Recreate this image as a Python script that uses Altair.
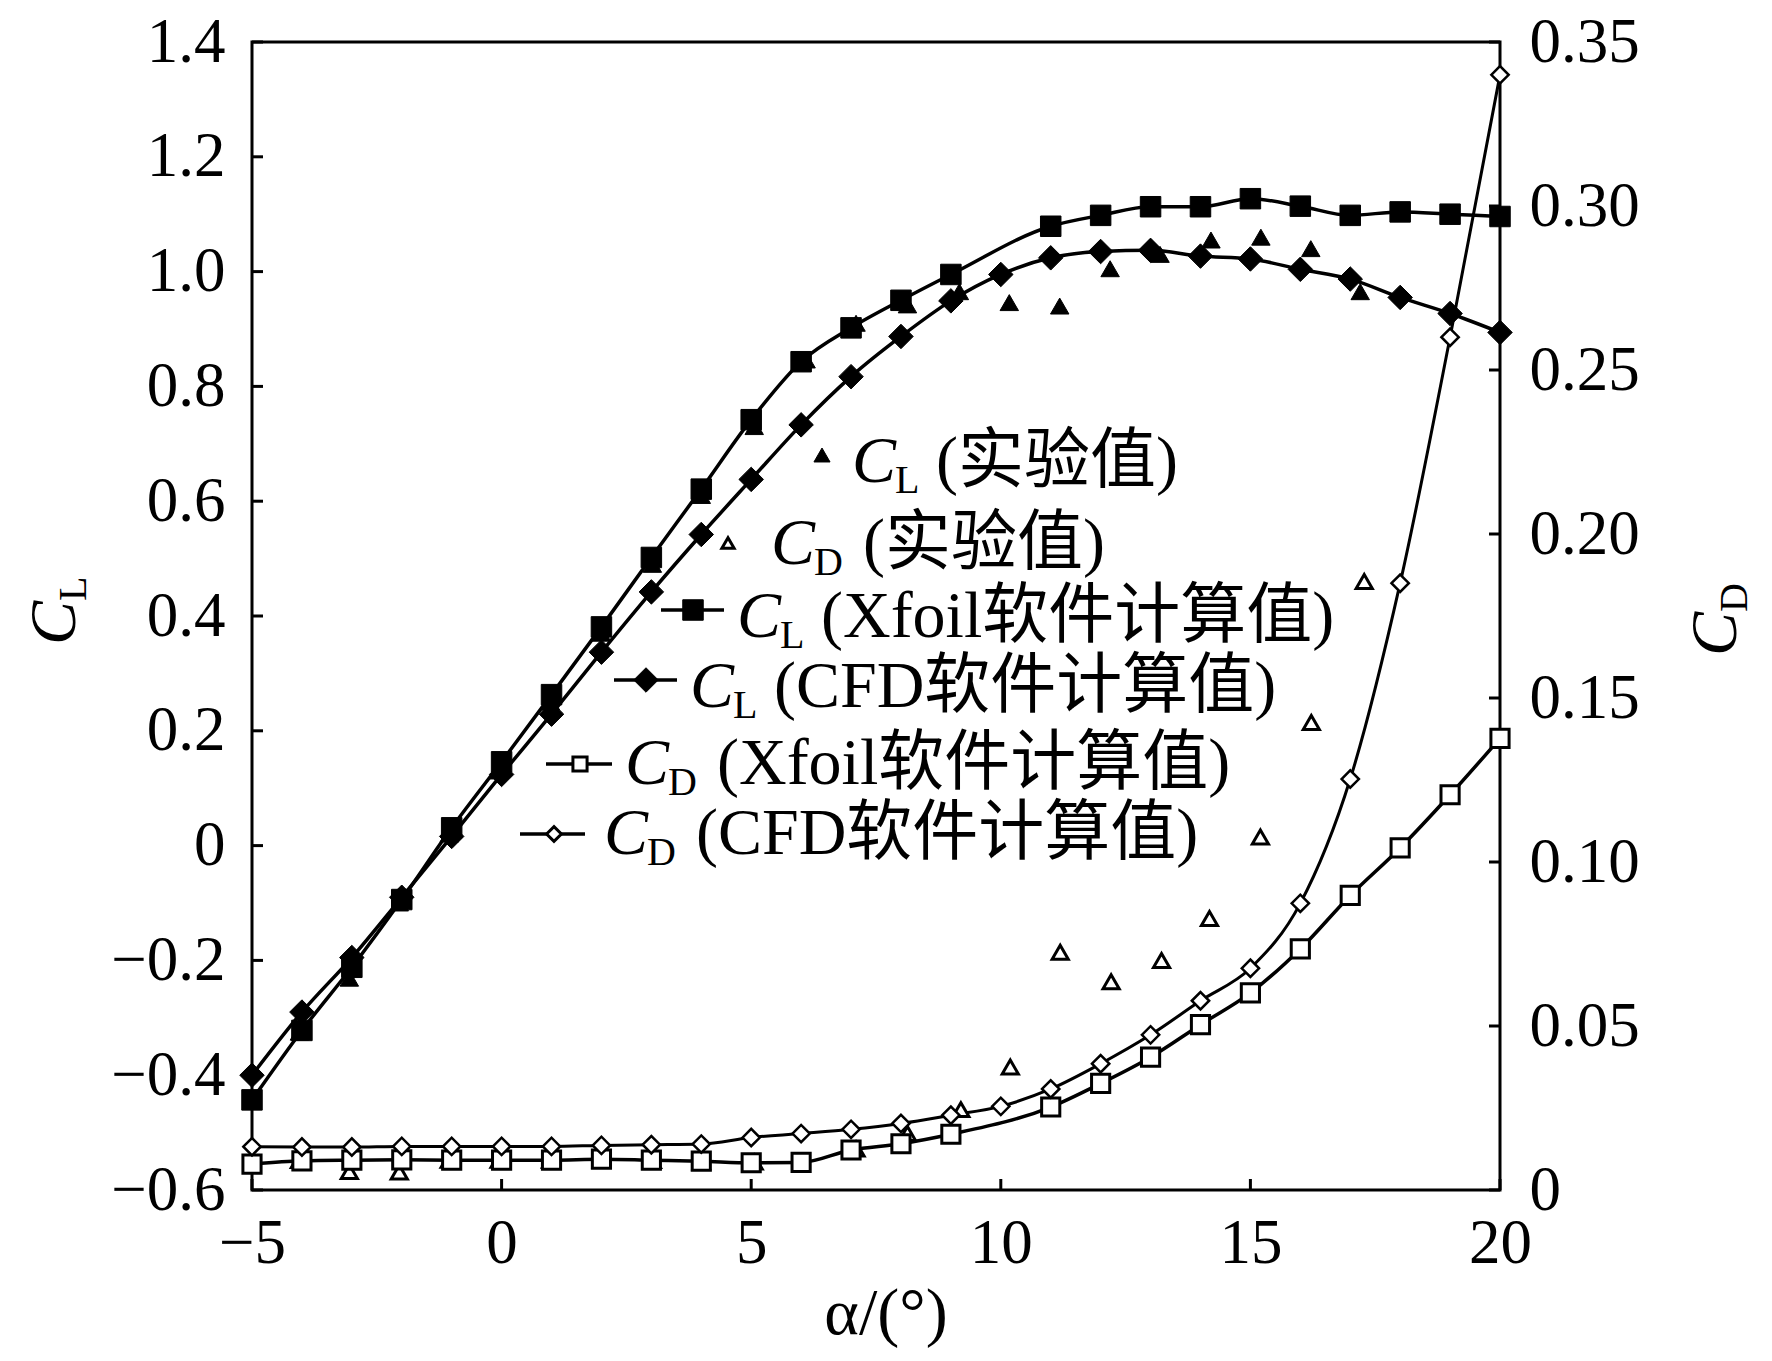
import altair as alt
import pandas as pd

# ---------------- data ----------------
alpha_cfd = list(range(-5, 21))
cl_cfd = [-0.40, -0.29, -0.195, -0.09, 0.016, 0.124, 0.229, 0.337, 0.442, 0.542,
          0.638, 0.733, 0.817, 0.887, 0.949, 0.995, 1.024, 1.035, 1.037, 1.027,
          1.022, 1.004, 0.987, 0.955, 0.927, 0.894]
cd_cfd = [0.0132, 0.0131, 0.0131, 0.0133, 0.0133, 0.0133, 0.0133, 0.0136, 0.0138, 0.0140,
          0.0160, 0.0172, 0.0185, 0.0203, 0.0228, 0.0255, 0.0308, 0.0385, 0.0473, 0.0577,
          0.0676, 0.0874, 0.1253, 0.185, 0.260, 0.340]

alpha_xfoil = [-5, -4, -3, -2, -1, 0, 1, 2, 3, 4, 5, 6, 7, 8, 9,
               11, 12, 13, 14, 15, 16, 17, 18, 19, 20]
cl_xfoil = [-0.443, -0.322, -0.212, -0.094, 0.031, 0.146, 0.263, 0.381, 0.502, 0.621,
            0.742, 0.843, 0.902, 0.950, 0.995, 1.079, 1.098, 1.113, 1.113, 1.127,
            1.114, 1.098, 1.104, 1.100, 1.096]
cd_xfoil = [0.0079, 0.0089, 0.0091, 0.0092, 0.0091, 0.0091, 0.0091, 0.0094, 0.0091, 0.0088,
            0.0083, 0.0084, 0.0122, 0.0141, 0.0170, 0.0253, 0.0325, 0.0405, 0.0504, 0.0601,
            0.0735, 0.0898, 0.1043, 0.1205, 0.1377]

alpha_exp_cl = [-4.05, -3.05, -2.05, -1.05, -0.05, 0.98, 2.0, 3.02, 4.0, 5.06, 6.1,
                7.1, 8.13, 9.17, 10.17, 11.18, 12.19, 13.19, 14.21, 15.21, 16.21, 17.2]
exp_cl = [-0.325, -0.231, -0.10, 0.02, 0.13, 0.25, 0.37, 0.49, 0.61, 0.73, 0.846,
          0.91, 0.942, 0.965, 0.946, 0.94, 1.005, 1.03, 1.055, 1.06, 1.04, 0.965]

alpha_exp_cd = [-4.05, -3.05, -2.05, -1.05, -0.05, 0.98, 2.0, 3.02, 4.0, 5.06,
                7.1, 8.13, 9.2, 10.19, 11.19, 12.21, 13.22, 14.18, 15.2, 16.22, 17.28]
exp_cd = [0.0090, 0.0056, 0.0055, 0.0091, 0.0091, 0.0091, 0.0092, 0.0090, 0.0086, 0.0085,
          0.0125, 0.0172, 0.0245, 0.0375, 0.0725, 0.0635, 0.0700, 0.0828, 0.1076, 0.1425,
          0.1855]

x_ticks = [-5, 0, 5, 10, 15, 20]
cl_ticks = [-0.6, -0.4, -0.2, 0, 0.2, 0.4, 0.6, 0.8, 1.0, 1.2, 1.4]
cd_ticks = [0, 0.05, 0.1, 0.15, 0.2, 0.25, 0.3, 0.35]

legend_labels = ["(实验值)", "(实验值)", "(Xfoil软件计算值)", "(CFD软件计算值)",
                 "(Xfoil软件计算值)", "(CFD软件计算值)"]
legend_subs = ["L", "D", "L", "L", "D", "D"]

# ---------------- layout / style ----------------
W, H = 1248, 1148
SERIF = "Liberation Serif, Noto Sans CJK SC"
LBL = 63
FS = 66
TICK = 11
LW = 3.5

df_xf = pd.DataFrame({"alpha": alpha_xfoil, "cl": cl_xfoil, "cd": cd_xfoil})
df_cfd = pd.DataFrame({"alpha": alpha_cfd, "cl": cl_cfd, "cd": cd_cfd})
df_ecl = pd.DataFrame({"alpha": alpha_exp_cl, "cl": exp_cl})
df_ecd = pd.DataFrame({"alpha": alpha_exp_cd, "cd": exp_cd})
ONE = pd.DataFrame({"k": [0]})

x_axis = alt.Axis(values=x_ticks, labelExpr="format(datum.value, 'd')", title=None,
                  domain=False, ticks=False, tickSize=0, grid=False,
                  labelFont=SERIF, labelFontSize=LBL, labelPadding=22,
                  labelColor="black", labelFlush=False, labelOverlap=False)
cl_axis = alt.Axis(orient="left", values=cl_ticks,
                   labelExpr="abs(datum.value) < 1e-9 ? '0' : format(datum.value, '.1f')",
                   title=None, domain=False, ticks=False, tickSize=0, grid=False,
                   labelFont=SERIF, labelFontSize=LBL, labelPadding=27,
                   labelColor="black", labelFlush=False, labelOverlap=False)
cd_axis = alt.Axis(orient="right", values=cd_ticks,
                   labelExpr="abs(datum.value) < 1e-9 ? '0' : format(datum.value, '.2f')",
                   title=None, domain=False, ticks=False, tickSize=0, grid=False,
                   labelFont=SERIF, labelFontSize=LBL, labelPadding=29,
                   labelColor="black", labelFlush=False, labelOverlap=False)

X = alt.X("alpha:Q", scale=alt.Scale(domain=[-5, 20], nice=False, zero=False), axis=x_axis)
YL = alt.Y("cl:Q", scale=alt.Scale(domain=[-0.6, 1.4], nice=False, zero=False), axis=cl_axis)
YR = alt.Y("cd:Q", scale=alt.Scale(domain=[0, 0.35], nice=False, zero=False), axis=cd_axis)

def line(df, y, w=LW):
    return alt.Chart(df).mark_line(color="black", strokeWidth=w,
                                   interpolate="monotone").encode(x=X, y=y)

def pts(df, y, shape, filled, size, sw=3):
    if filled:
        m = alt.Chart(df).mark_point(shape=shape, filled=True, fill="black",
                                     stroke="black", strokeWidth=1, size=size, opacity=1)
    else:
        m = alt.Chart(df).mark_point(shape=shape, filled=True, fill="white",
                                     stroke="black", strokeWidth=sw, size=size, opacity=1)
    return m.encode(x=X, y=y)

ticks_bottom = alt.Chart(pd.DataFrame({"alpha": x_ticks})).mark_rule(
    color="black", strokeWidth=3).encode(x=X, y=alt.value(H), y2=alt.value(H - TICK))
ticks_left = alt.Chart(pd.DataFrame({"cl": cl_ticks})).mark_rule(
    color="black", strokeWidth=3).encode(y=YL, x=alt.value(0), x2=alt.value(TICK))
ticks_right = alt.Chart(pd.DataFrame({"cd": cd_ticks})).mark_rule(
    color="black", strokeWidth=3).encode(y=YR, x=alt.value(W - TICK), x2=alt.value(W))

cl_group = alt.layer(
    line(df_xf, YL), line(df_cfd, YL),
    pts(df_ecl, YL, "triangle-up", True, 340),
    pts(df_xf, YL, "square", True, 420),
    pts(df_cfd, YL, "diamond", True, 600),
    ticks_left, ticks_bottom,
)
cd_group = alt.layer(
    line(df_xf, YR), line(df_cfd, YR, 3),
    pts(df_ecd, YR, "triangle-up", False, 260, 3),
    pts(df_xf, YR, "square", False, 330, 3),
    pts(df_cfd, YR, "diamond", False, 300, 2.5),
    ticks_right,
)

def txt(t, x, y, size=FS, italic=False, angle=0, align="left"):
    kw = dict(text=t, font=SERIF, fontSize=size, align=align, baseline="alphabetic",
              color="black")
    if italic:
        kw["fontStyle"] = "italic"
    if angle:
        kw["angle"] = angle
    return alt.Chart(ONE).mark_text(**kw).encode(x=alt.value(x), y=alt.value(y))

# legend geometry (pixel positions inside the plot area)
leg_pos = [
    dict(shape="triangle-up", filled=True, size=260, sx=570, sy=413, ln=None, cx=600, by=440),
    dict(shape="triangle-up", filled=False, size=150, sx=476, sy=501, ln=None, cx=519, by=522),
    dict(shape="square", filled=True, size=420, sx=441, sy=568, ln=(409, 472), cx=485, by=595),
    dict(shape="diamond", filled=True, size=600, sx=394, sy=638, ln=(362, 425), cx=438, by=665),
    dict(shape="square", filled=False, size=200, sx=328, sy=722, ln=(294, 360), cx=373, by=742),
    dict(shape="diamond", filled=False, size=220, sx=302, sy=792, ln=(268, 333), cx=352, by=812),
]

ann = []
for p, lab, sub in zip(leg_pos, legend_labels, legend_subs):
    if p["ln"] is not None:
        ann.append(alt.Chart(ONE).mark_rule(color="black", strokeWidth=3.5).encode(
            x=alt.value(p["ln"][0]), x2=alt.value(p["ln"][1]), y=alt.value(p["sy"])))
    if p["filled"]:
        mk = alt.Chart(ONE).mark_point(shape=p["shape"], filled=True, fill="black",
                                       stroke="black", strokeWidth=1, size=p["size"], opacity=1)
    else:
        mk = alt.Chart(ONE).mark_point(shape=p["shape"], filled=True, fill="white",
                                       stroke="black", strokeWidth=3, size=p["size"], opacity=1)
    ann.append(mk.encode(x=alt.value(p["sx"]), y=alt.value(p["sy"])))
    ann.append(txt("C", p["cx"], p["by"], italic=True))
    ann.append(txt(sub, p["cx"] + 43, p["by"] + 11, size=40))
    ann.append(txt(lab, p["cx"] + (84 if sub == "L" else 92), p["by"]))

# axis titles
ann.append(txt("C", -177, 603, italic=True, angle=270))
ann.append(txt("L", -166, 559, size=40, angle=270))
ann.append(txt("C", 1484, 614, italic=True, angle=270))
ann.append(txt("D", 1495, 570, size=40, angle=270))
ann.append(txt("α/(°)", 634, 1292, align="center"))

chart = alt.layer(cl_group, cd_group, *ann).resolve_scale(y="independent").properties(
    width=W, height=H,
    autosize=alt.AutoSizeParams(type="none"),
    padding={"left": 244, "top": 34, "right": 262, "bottom": 158},
    background="white",
).configure_view(stroke="black", strokeWidth=3).configure_axis(grid=False, domain=False)

chart.save("out.html", embed_options={"renderer": "svg", "actions": False})
